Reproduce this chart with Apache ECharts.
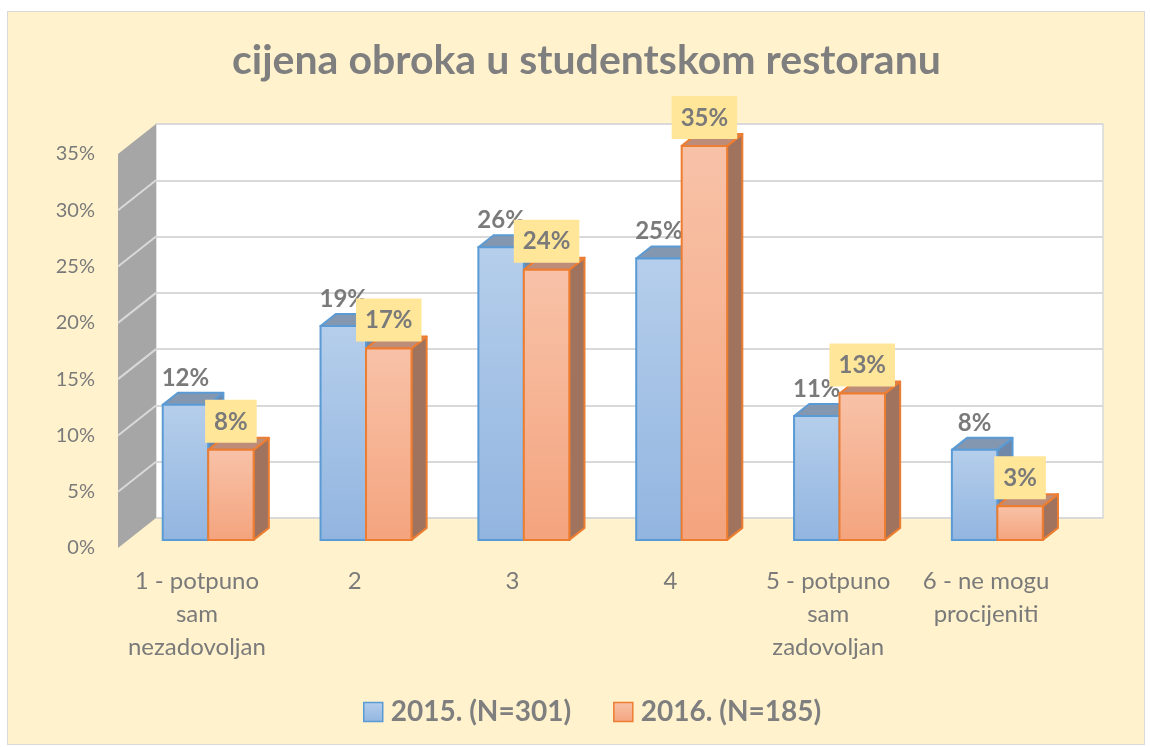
<!DOCTYPE html>
<html>
<head>
<meta charset="utf-8">
<title>cijena obroka u studentskom restoranu</title>
<script src="https://cdn.jsdelivr.net/npm/echarts@6/dist/echarts.min.js"></script>
<style>
  html, body { margin: 0; padding: 0; background: #fff; }
  #frame {
    position: absolute; left: 7px; top: 11px; width: 1136px; height: 732px;
    background: #FFF2CC; border: 1.5px solid #D9D9D9;
  }
  #chart { position: absolute; left: 0; top: 0; width: 1150px; height: 747px; }
</style>
</head>
<body>
<div id="frame"></div>
<div id="chart"></div>
<script>
  // data
  var categories = [
    '1 - potpuno\nsam\nnezadovoljan',
    '2',
    '3',
    '4',
    '5 - potpuno\nsam\nzadovoljan',
    '6 - ne mogu\nprocijeniti'
  ];
  var seriesNames = ['2015. (N=301)', '2016. (N=185)'];
  var values2015 = [12, 19, 26, 25, 11, 8];
  var values2016 = [8, 17, 24, 35, 13, 3];
  var yMin = 0, yMax = 35, yStep = 5;

  var FONT = 'Lato, "Open Sans", sans-serif';
  var TEXT = '#7a7a7a';

  // fake 3D: how far the back wall sits from the front plane
  var DEPTH_X = 38, DEPTH_Y = -30;
  var BAR_FRONT = 0.27, BAR_DEPTH = 0.4;

  var grad = echarts.graphic.LinearGradient;
  var looks = [
    {
      line: '#5B9BD5', top: '#8497B0', side: '#6F87A8',
      front: new grad(0, 0, 0, 1, [{offset: 0, color: '#B5CEEB'}, {offset: 1, color: '#92B5E0'}]),
      boxed: false
    },
    {
      line: '#ED7D31', top: '#BD8D7A', side: '#9F735E',
      front: new grad(0, 0, 0, 1, [{offset: 0, color: '#F8C2A8'}, {offset: 1, color: '#F4A47E'}]),
      boxed: true
    }
  ];

  function makeBar(slot) {
    var look = looks[slot];
    return function (params, api) {
      var i = api.value(0), v = api.value(1);
      var pTop = api.coord([i, v]);
      var pBase = api.coord([i, 0]);
      var band = api.size([1, 0])[0];
      var w = band * 0.288;
      var ox = DEPTH_X * BAR_FRONT, oy = DEPTH_Y * BAR_FRONT;
      var dx = DEPTH_X * BAR_DEPTH, dy = DEPTH_Y * BAR_DEPTH;
      var cx = pTop[0] + ox + 1;
      var x0 = slot === 0 ? cx - w : cx;
      var x1 = x0 + w;
      var yt = pTop[1] + oy, yb = pBase[1] + oy;

      var kids = [
        { type: 'polygon',
          shape: { points: [[x1, yt], [x1 + dx, yt + dy], [x1 + dx, yb + dy], [x1, yb]] },
          style: { fill: look.side, stroke: look.line, lineWidth: 2, lineJoin: 'round' } },
        { type: 'polygon',
          shape: { points: [[x0, yt], [x1, yt], [x1 + dx, yt + dy], [x0 + dx, yt + dy]] },
          style: { fill: look.top, stroke: look.line, lineWidth: 2, lineJoin: 'round' } },
        { type: 'rect',
          shape: { x: x0, y: yt, width: w, height: yb - yt },
          style: { fill: look.front, stroke: look.line, lineWidth: 2 } }
      ];

      if (look.boxed) {
        kids.push({
          type: 'text',
          style: {
            text: v + '%', x: x0 + w / 2, y: yt - 7,
            align: 'center', verticalAlign: 'bottom',
            fill: TEXT, font: 'bold 24px ' + FONT,
            backgroundColor: '#FFE699', padding: [10, 9, 9, 9]
          }
        });
      } else {
        kids.push({
          type: 'text',
          style: {
            text: v + '%', x: x0 + w / 2, y: yt - 27,
            align: 'center', verticalAlign: 'middle',
            fill: TEXT, font: 'bold 24px ' + FONT
          }
        });
      }
      return { type: 'group', children: kids };
    };
  }

  // grey side wall on the left, with its grid lines
  function renderSideWall(params, api) {
    var cs = params.coordSys;
    var xl = cs.x, yTop = cs.y, yBot = cs.y + cs.height;
    var kids = [{
      type: 'polygon',
      shape: { points: [[xl, yBot], [xl, yTop], [xl + DEPTH_X, yTop + DEPTH_Y], [xl + DEPTH_X, yBot + DEPTH_Y]] },
      style: { fill: '#A6A6A6' }
    }];
    for (var t = yMin + yStep; t < yMax; t += yStep) {
      var y = api.coord([0, t])[1];
      kids.push({
        type: 'line',
        shape: { x1: xl, y1: y, x2: xl + DEPTH_X, y2: y + DEPTH_Y },
        style: { stroke: '#D9D9D9', lineWidth: 2 }
      });
    }
    return { type: 'group', children: kids };
  }

  function pairs(arr) {
    return arr.map(function (v, i) { return [i, v]; });
  }

  var chart = echarts.init(document.getElementById('chart'));

  chart.setOption({
    animation: false,
    textStyle: { fontFamily: FONT },
    title: {
      text: 'cijena obroka u studentskom restoranu',
      left: 227,
      top: 35,
      textStyle: { fontSize: 41, fontWeight: 'bold', color: '#7f7f7f', fontFamily: FONT }
    },
    legend: {
      top: 693,
      left: 358,
      itemWidth: 19,
      itemHeight: 19,
      itemGap: 42,
      textStyle: { fontSize: 28, fontWeight: 'bold', color: '#7f7f7f', fontFamily: FONT, padding: [0, 0, 0, 3] },
      data: [
        { name: seriesNames[0], icon: 'rect',
          itemStyle: { color: looks[0].front, borderColor: looks[0].line, borderWidth: 1.5 } },
        { name: seriesNames[1], icon: 'rect',
          itemStyle: { color: looks[1].front, borderColor: looks[1].line, borderWidth: 1.5 } }
      ]
    },
    grid: [
      // front plane (axis labels, bars)
      { left: 118, top: 154, width: 947, height: 394 },
      // back wall
      { left: 118 + DEPTH_X, top: 154 + DEPTH_Y, width: 947, height: 394,
        show: true, backgroundColor: '#ffffff', borderColor: '#D9D9D9', borderWidth: 1.5 }
    ],
    xAxis: [
      {
        type: 'category', gridIndex: 0, data: categories,
        axisLine: { show: false }, axisTick: { show: false },
        axisLabel: { interval: 0, fontSize: 24, lineHeight: 33, color: TEXT, margin: 17, fontFamily: FONT }
      },
      { type: 'category', gridIndex: 1, data: categories, show: false }
    ],
    yAxis: [
      {
        type: 'value', gridIndex: 0, min: yMin, max: yMax, interval: yStep,
        axisLine: { show: false }, axisTick: { show: false }, splitLine: { show: false },
        axisLabel: { formatter: '{value}%', fontSize: 20, color: TEXT, margin: 23, fontFamily: FONT }
      },
      {
        type: 'value', gridIndex: 1, min: yMin, max: yMax, interval: yStep,
        axisLine: { show: false }, axisTick: { show: false }, axisLabel: { show: false },
        splitLine: { show: true, lineStyle: { color: '#D9D9D9', width: 2 } }
      }
    ],
    series: [
      {
        type: 'custom', name: 'wall', xAxisIndex: 0, yAxisIndex: 0,
        silent: true, z: 1, data: [[0, 0]], renderItem: renderSideWall
      },
      {
        type: 'custom', name: seriesNames[0], xAxisIndex: 0, yAxisIndex: 0, z: 3,
        itemStyle: { color: '#9DBCE3' },
        encode: { x: 0, y: 1 }, data: pairs(values2015), renderItem: makeBar(0)
      },
      {
        type: 'custom', name: seriesNames[1], xAxisIndex: 0, yAxisIndex: 0, z: 4,
        itemStyle: { color: '#F6B291' },
        encode: { x: 0, y: 1 }, data: pairs(values2016), renderItem: makeBar(1)
      }
    ]
  });
</script>
</body>
</html>
